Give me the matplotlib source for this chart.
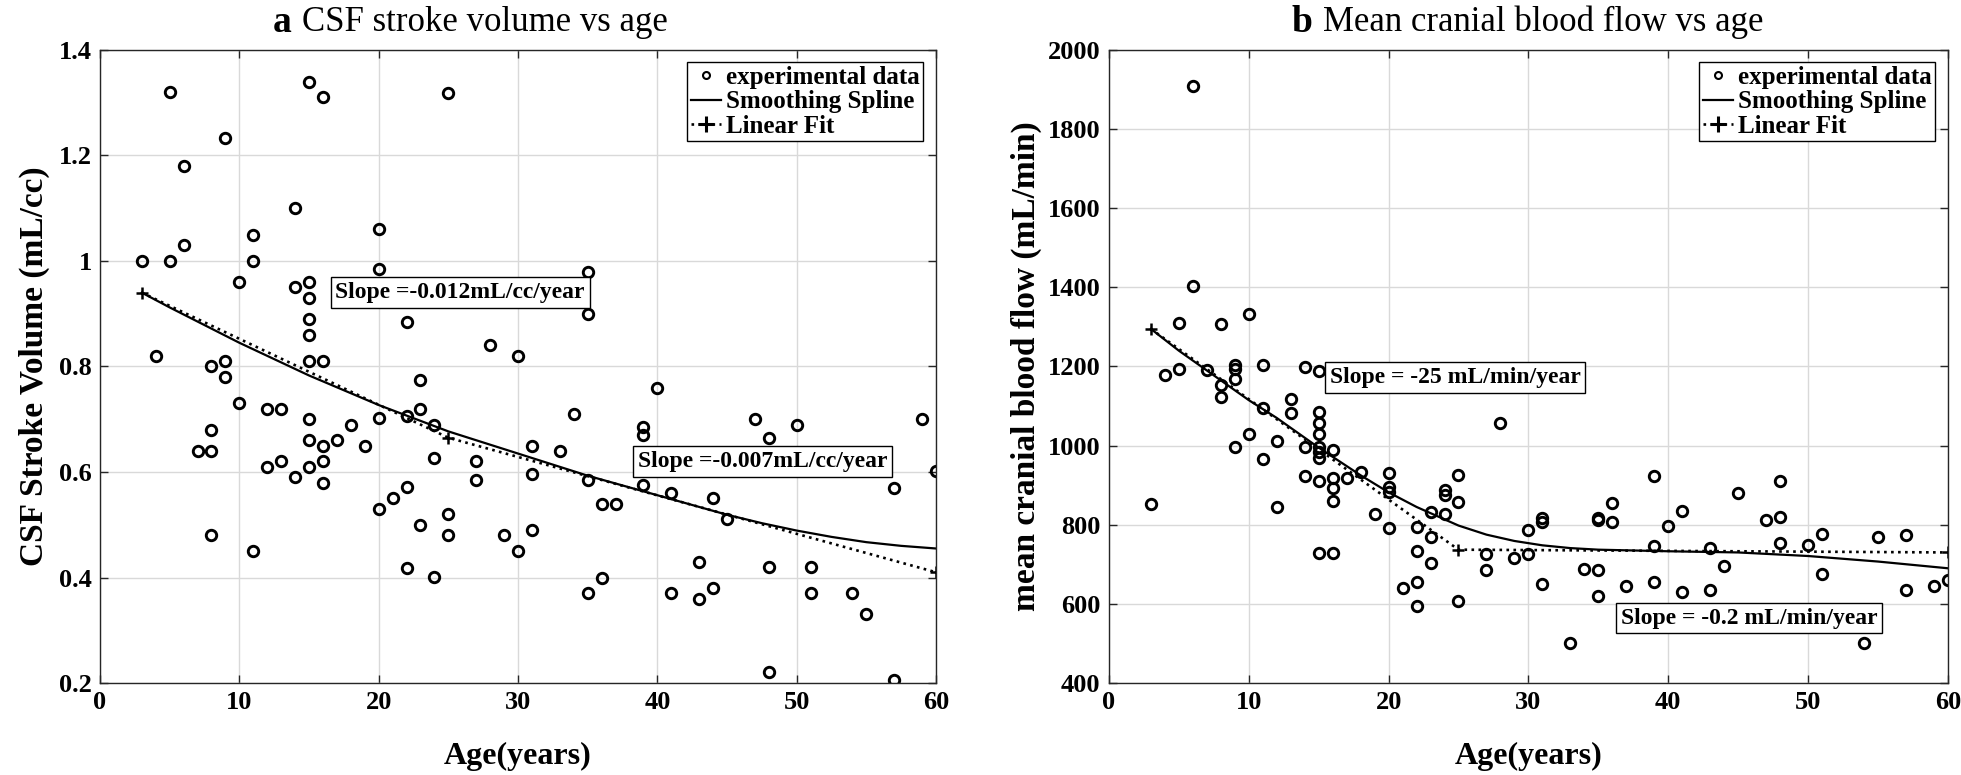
import matplotlib
matplotlib.use('Agg')
import matplotlib.pyplot as plt

plt.rcParams['font.family'] = ['Liberation Serif', 'DejaVu Serif']

# panel a: CSF stroke volume (mL/cc) vs age
age_a = [3, 4, 5, 5, 6, 6, 7, 8, 8, 8, 8, 9, 9, 9, 10, 10, 11, 11, 11, 12, 12, 13, 13,
         14, 14, 14, 15, 15, 15, 15, 15, 15, 15, 15, 15, 16, 16, 16, 16, 16, 17, 18, 19,
         20, 20, 20, 20, 21, 22, 22, 22, 22, 23, 23, 23, 24, 24, 24, 25, 25, 25, 27, 27,
         28, 29, 30, 30, 31, 31, 31, 33, 34, 35, 35, 35, 35, 36, 36, 37, 39, 39, 39, 40,
         41, 41, 43, 43, 44, 44, 45, 47, 48, 48, 48, 50, 51, 51, 54, 55, 57, 57, 59, 60]
csf = [1.00, 0.82, 1.32, 1.00, 1.18, 1.03, 0.64, 0.80, 0.68, 0.64, 0.48, 1.234, 0.81, 0.78,
       0.96, 0.73, 1.05, 1.00, 0.45, 0.72, 0.61, 0.72, 0.62, 1.10, 0.95, 0.59, 1.34, 0.96,
       0.93, 0.89, 0.86, 0.81, 0.70, 0.66, 0.61, 1.31, 0.81, 0.65, 0.62, 0.58, 0.66, 0.69,
       0.65, 1.06, 0.985, 0.703, 0.53, 0.55, 0.884, 0.706, 0.571, 0.418, 0.775, 0.72, 0.50,
       0.69, 0.626, 0.401, 1.319, 0.52, 0.48, 0.62, 0.585, 0.84, 0.48, 0.82, 0.45, 0.65,
       0.596, 0.49, 0.64, 0.71, 0.98, 0.90, 0.585, 0.37, 0.54, 0.40, 0.54, 0.685, 0.67,
       0.575, 0.76, 0.56, 0.37, 0.43, 0.36, 0.55, 0.38, 0.51, 0.70, 0.664, 0.42, 0.22,
       0.69, 0.42, 0.37, 0.37, 0.33, 0.57, 0.206, 0.70, 0.602]
spline_x_a = [3, 5, 10, 15, 20, 25, 30, 35, 40, 45, 47.5, 50, 52.5, 55, 57.5, 60]
spline_y_a = [0.94, 0.912, 0.845, 0.783, 0.727, 0.677, 0.635, 0.593, 0.556, 0.519, 0.503,
              0.489, 0.477, 0.467, 0.460, 0.455]
lin_x_a = [3, 25, 60]
lin_y_a = [0.94, 0.665, 0.41]

# panel b: mean cranial blood flow (mL/min) vs age
age_b = [3, 4, 5, 5, 6, 6, 7, 8, 8, 8, 9, 9, 9, 9, 10, 10, 11, 11, 11, 12, 12, 13, 13,
         14, 14, 14, 15, 15, 15, 15, 15, 15, 15, 15, 15, 16, 16, 16, 16, 16, 17, 18, 19,
         20, 20, 20, 20, 21, 22, 22, 22, 22, 23, 23, 23, 24, 24, 24, 25, 25, 25, 27, 27,
         28, 29, 30, 30, 31, 31, 31, 33, 34, 35, 35, 35, 35, 36, 36, 37, 39, 39, 39, 40,
         41, 41, 43, 43, 44, 45, 47, 48, 48, 48, 50, 51, 51, 54, 55, 57, 57, 59, 60]
flow = [853, 1179, 1309, 1193, 1910, 1404, 1190, 1307, 1153, 1124, 1204, 1194, 1169, 996,
        1333, 1030, 1204, 1094, 967, 1012, 844, 1117, 1083, 1198, 996, 924, 1189, 1084,
        1058, 1030, 996, 983, 969, 911, 728, 988, 918, 893, 860, 728, 918, 934, 828, 931,
        895, 884, 792, 640, 794, 733, 656, 594, 832, 768, 704, 888, 875, 828, 926, 857,
        608, 727, 686, 1056, 716, 787, 725, 817, 807, 649, 501, 687, 818, 813, 686, 620,
        854, 808, 644, 923, 747, 656, 796, 835, 631, 740, 634, 697, 880, 813, 910, 819,
        755, 748, 777, 676, 500, 768, 773, 635, 644, 661]
spline_x_b = [3, 5, 7, 10, 12, 15, 18, 20, 22, 25, 27, 29, 31, 33, 35, 40, 45, 50, 55, 60]
spline_y_b = [1295, 1240, 1190, 1115, 1070, 995, 925, 882, 845, 798, 775, 759, 748, 741,
              737, 733, 730, 721, 707, 690]
lin_x_b = [3, 25, 60]
lin_y_b = [1295, 737, 730]

fig = plt.figure(figsize=(19.61, 7.75), dpi=100)
ax1 = fig.add_axes([0.051, 0.1187, 0.4263, 0.8168])
ax2 = fig.add_axes([0.5655, 0.1187, 0.4278, 0.8168])


def style(ax):
    ax.grid(True, color='#d9d9d9', linewidth=1.0)
    ax.set_axisbelow(True)
    for s in ax.spines.values():
        s.set_color('#262626')
        s.set_linewidth(1.0)
    ax.tick_params(direction='in', length=6, width=1, top=True, right=True,
                   labelsize=19, pad=6, colors='#262626', labelcolor='black')
    for lab in ax.get_xticklabels() + ax.get_yticklabels():
        lab.set_fontweight('bold')
    ax.set_xlim(0, 60)
    ax.set_xticks(range(0, 61, 10))
    ax.set_xlabel('Age(years)', fontsize=23, fontweight='bold', labelpad=20)


def draw(ax, x, y, sx, sy, lx, ly):
    ax.plot(x, y, 'o', mfc='none', mec='black', ms=7.5, mew=2.1, label='experimental data')
    ax.plot(sx, sy, '-', color='black', lw=1.6, label='Smoothing Spline')
    ax.plot(lx, ly, ':', color='black', lw=1.9, marker='+', ms=8, mew=1.8, label='Linear Fit')
    leg = ax.legend(loc='upper right', prop={'weight': 'bold', 'size': 18}, fancybox=False,
                    edgecolor='black', framealpha=1, borderpad=0.15, labelspacing=0.05,
                    handlelength=1.2, handletextpad=0.2, borderaxespad=0.5)
    leg.get_frame().set_linewidth(1.0)
    hs = leg.legend_handles
    hs[0].set_markersize(5)
    hs[0].set_markeredgewidth(1.5)
    hs[2].set_markersize(11)
    hs[2].set_markeredgewidth(2.2)


draw(ax1, age_a, csf, spline_x_a, spline_y_a, lin_x_a, lin_y_a)
ax1.set_ylim(0.2, 1.4)
ax1.set_yticks([0.2, 0.4, 0.6, 0.8, 1.0, 1.2, 1.4])
ax1.set_yticklabels(['0.2', '0.4', '0.6', '0.8', '1', '1.2', '1.4'])
style(ax1)
ax1.set_ylabel('CSF Stroke Volume (mL/cc)', fontsize=24, fontweight='bold', labelpad=6)

draw(ax2, age_b, flow, spline_x_b, spline_y_b, lin_x_b, lin_y_b)
ax2.set_ylim(400, 2000)
ax2.set_yticks(range(400, 2001, 200))
style(ax2)
ax2.set_ylabel('mean cranial blood flow (mL/min)', fontsize=24, fontweight='bold', labelpad=4)

box = dict(boxstyle='square,pad=0.2', fc='white', ec='black', lw=1.0)
ax1.text(16.9, 0.94, 'Slope =-0.012mL/cc/year', fontsize=17, fontweight='bold', va='center', bbox=box)
ax1.text(38.6, 0.62, 'Slope =-0.007mL/cc/year', fontsize=17, fontweight='bold', va='center', bbox=box)
ax2.text(15.8, 1172, 'Slope = -25 mL/min/year', fontsize=17, fontweight='bold', va='center', bbox=box)
ax2.text(36.6, 564, 'Slope = -0.2 mL/min/year', fontsize=17, fontweight='bold', va='center', bbox=box)

# titles: bold panel letter followed by normal text
for ax, letter, title, xs in [(ax1, 'a', 'CSF stroke volume vs age', 0.207),
                              (ax2, 'b', 'Mean cranial blood flow vs age', 0.218)]:
    t = ax.text(xs, 1.044, letter, transform=ax.transAxes, fontsize=27, fontweight='bold',
                va='center', ha='left')
    fig.canvas.draw()
    bb = t.get_window_extent().transformed(ax.transAxes.inverted())
    ax.text(bb.x1 + 0.012, 1.044, title, transform=ax.transAxes, fontsize=25,
            va='center', ha='left')

fig.savefig('out.png', dpi=100)
